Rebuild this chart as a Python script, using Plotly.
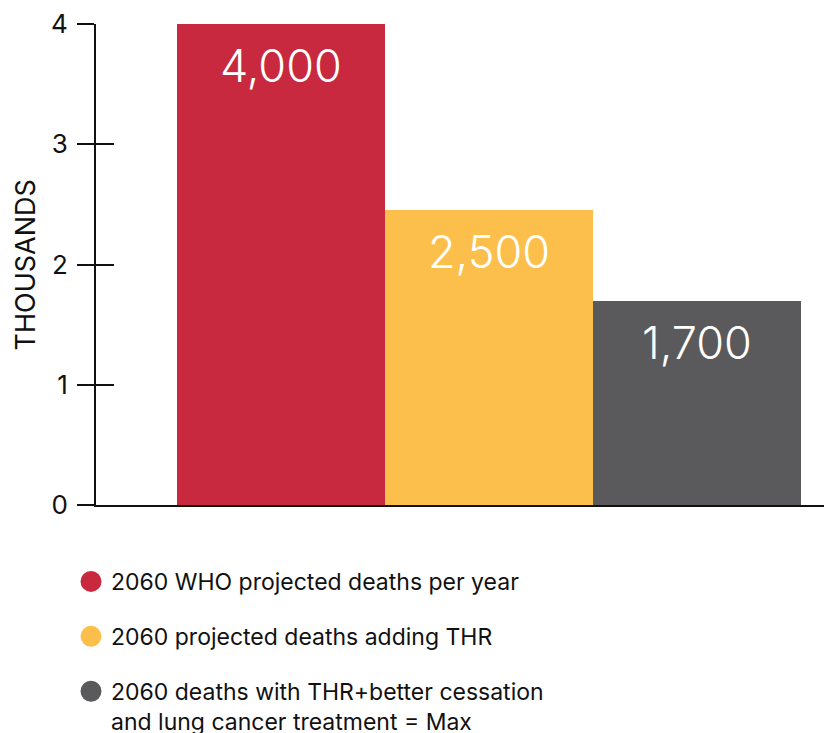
import plotly.graph_objects as go

categories = ["2060 WHO projected deaths per year",
              "2060 projected deaths adding THR",
              "2060 deaths with THR+better cessation<br>and lung cancer treatment = Max"]
values = [4.0, 2.45, 1.7]
value_labels = ["4,000", "2,500", "1,700"]
colors = ["#C8293E", "#FDBF4C", "#5A5A5C"]
y_ticks = [0, 1, 2, 3, 4]
y_title = "THOUSANDS"

FONT = "Inter, Roboto, sans-serif"
positions = list(range(len(values)))

fig = go.Figure()
fig.add_trace(go.Bar(
    x=positions, y=values, width=1,
    marker=dict(color=colors, line=dict(width=0)),
    showlegend=False, hoverinfo="skip",
))
# invisible trace to anchor the overlay axis (inner tick halves)
fig.add_trace(go.Scatter(x=[None], y=[None], yaxis="y2", showlegend=False, hoverinfo="skip"))

for name, col in zip(categories, colors):
    fig.add_trace(go.Scatter(
        x=[None], y=[None], mode="markers", name=name,
        legendgroup=name,
        marker=dict(symbol="circle", size=16, color=col, line=dict(color=col, width=5)),
    ))

for p, v, lab in zip(positions, values, value_labels):
    fig.add_annotation(x=p, y=v, text=lab, showarrow=False, yanchor="top", yshift=-12,
                       font=dict(family=FONT, size=45, color="white", weight=300))

fig.add_annotation(xref="paper", yref="paper", x=-0.0962, y=0.5, text=y_title,
                   textangle=-90, showarrow=False, xanchor="center", yanchor="middle",
                   font=dict(family=FONT, size=27, color="#111111"))

fig.update_layout(
    width=824, height=733,
    margin=dict(l=96, r=0, t=24, b=228, autoexpand=False),
    paper_bgcolor="white", plot_bgcolor="white",
    bargap=0,
    xaxis=dict(range=[-0.889, 2.61], showticklabels=False, ticks="", showgrid=False,
               zeroline=False, showline=True, linecolor="#111111", linewidth=2),
    yaxis=dict(range=[0, 4], tickvals=y_ticks, ticks="outside", ticklen=17, tickwidth=2,
               tickcolor="#111111", showgrid=False, zeroline=False, showline=True,
               linecolor="#111111", linewidth=2, ticklabelstandoff=4,
               tickfont=dict(family=FONT, size=26, color="#111111")),
    yaxis2=dict(range=[0, 4], tickvals=y_ticks, overlaying="y", side="left", anchor="x",
                ticks="inside", ticklen=18, tickwidth=2, tickcolor="#111111",
                showticklabels=False, showgrid=False, zeroline=False, showline=False),
    legend=dict(xref="container", yref="container", x=71/824, y=1-560/733,
                xanchor="left", yanchor="top", valign="top",
                font=dict(family=FONT, size=23, color="#111111"),
                tracegroupgap=22, bgcolor="rgba(0,0,0,0)"),
    font=dict(family=FONT),
)

fig.write_html("out.html")
